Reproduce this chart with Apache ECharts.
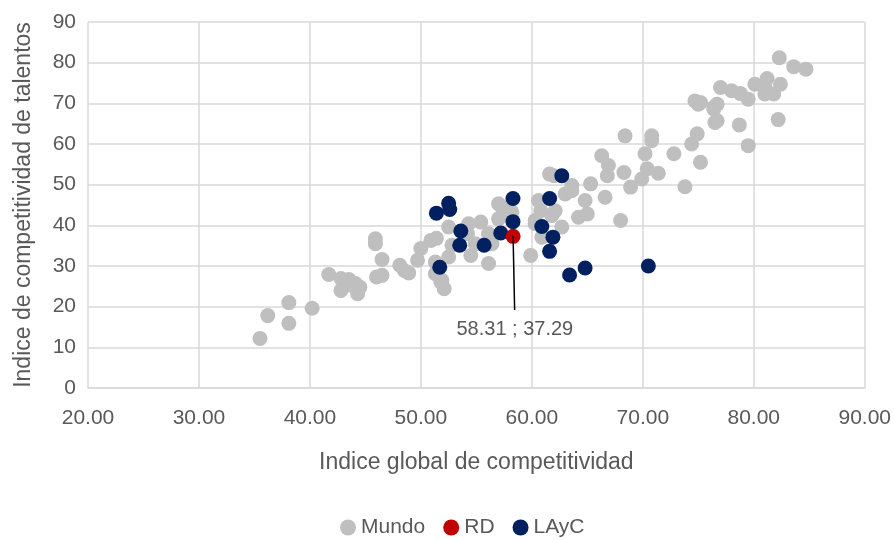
<!DOCTYPE html>
<html><head><meta charset="utf-8">
<script src="https://cdn.jsdelivr.net/npm/echarts@6/dist/echarts.min.js"></script>
<style>html,body{margin:0;padding:0;background:#fff}#c{width:894px;height:540px}</style>
</head><body><div id="c"></div>
<script>
const seriesNames = ['Mundo', 'RD', 'LAyC'];
const xAxisTitle = 'Indice global de competitividad';
const yAxisTitle = 'Indice de competitividad de talentos';
const mundo = [
[35.5,12.2],[36.2,17.8],[38.1,21.0],[38.1,15.9],[40.2,19.6],
[41.7,27.9],[42.8,26.9],[43.5,26.7],[42.8,24.0],[44.1,25.7],[44.3,23.2],[43.4,25.3],[44.5,24.8],
[45.9,36.7],[45.9,35.5],[46.5,31.6],[46.0,27.3],[46.5,27.7],
[48.1,30.2],[48.9,28.3],[48.5,28.9],[49.7,31.4],[50.0,34.3],[50.9,36.3],[51.4,36.8],
[51.3,31.0],[51.9,26.5],[51.3,28.1],[52.1,24.4],[51.8,26.1],
[52.5,32.2],[54.5,32.6],[56.1,30.6],[54.9,35.5],[52.8,35.1],[54.2,37.9],[56.1,37.9],[56.4,35.5],
[52.5,39.6],[54.3,40.4],[55.4,40.8],[57.0,45.3],[57.0,41.6],[57.9,43.2],[57.3,44.5],[58.2,43.2],
[59.9,32.6],[60.3,40.4],
[60.6,46.1],[60.8,43.6],[62.1,43.6],[62.7,39.6],[60.3,41.2],[60.9,37.1],[61.8,42.4],
[61.6,52.6],[62.0,52.2],
[63.6,49.8],[63.0,47.7],[64.8,46.1],[66.6,46.9],[65.0,42.8],[64.2,42.0],[68.0,41.2],[65.3,50.2],[63.6,48.5],
[66.3,57.1],[66.9,54.7],[66.8,52.2],[68.3,53.0],[68.9,49.4],
[68.4,62.0],[70.8,62.0],[70.8,60.8],[70.2,57.6],[70.4,53.9],[71.4,52.8],[69.9,51.4],[72.8,57.6],[73.8,49.5],
[74.4,60.0],[74.9,62.5],[75.2,55.5],[76.5,65.3],[74.7,70.6],[75.0,69.8],[76.4,69.0],[75.2,70.2],[76.7,69.8],[76.4,68.6],[76.7,65.7],
[77.0,73.9],[78.0,73.1],[78.8,72.4],[79.5,71.0],[78.7,64.7],[79.5,59.6],
[80.1,74.7],[81.2,76.1],[82.4,74.7],[81.0,73.9],[81.8,72.3],[81.0,72.3],[82.2,66.0],
[82.3,81.2],[83.6,79.0],[84.7,78.4]
];
const rd = [[58.31,37.29]];
const layc = [
[62.7,52.2],[58.3,46.6],[61.6,46.6],[52.5,45.4],[52.6,43.9],[51.4,43.0],[58.3,40.9],[60.9,39.7],
[53.6,38.6],[61.9,37.1],[57.2,38.1],[55.7,35.1],[53.5,35.1],[61.6,33.6],[51.7,29.7],[64.8,29.5],
[63.4,27.8],[70.5,30.0]
];
const annotationEnd = [58.45, 19.2];

const FONT = '"Liberation Sans", Arial, sans-serif';
const chart = echarts.init(document.getElementById('c'));
chart.setOption({
  animation: false,
  textStyle: {fontFamily: FONT},
  grid: {left: 88, right: 27, top: 22, bottom: 152, containLabel: false},
  legend: {
    data: seriesNames, bottom: -3, left: 335, icon: 'circle', itemWidth: 16, itemHeight: 16, itemGap: 18,
    textStyle: {fontSize: 21, color: '#595959', fontFamily: FONT}
  },
  xAxis: {
    type: 'value', min: 20, max: 90, interval: 10,
    name: xAxisTitle, nameLocation: 'middle', nameGap: 63,
    nameTextStyle: {fontSize: 23, color: '#595959', fontFamily: FONT},
    axisLine: {show: true, onZero: false, lineStyle: {color: '#D9D9D9', width: 1.5}},
    axisTick: {show: false},
    axisLabel: {fontSize: 21, color: '#595959', margin: 20, formatter: v => v.toFixed(2)},
    splitLine: {show: true, lineStyle: {color: '#D9D9D9', width: 1.5}}
  },
  yAxis: {
    type: 'value', min: 0, max: 90, interval: 10,
    name: yAxisTitle, nameLocation: 'middle', nameGap: 53, nameRotate: 90,
    nameTextStyle: {fontSize: 23, color: '#595959', fontFamily: FONT},
    axisLine: {show: false}, axisTick: {show: false},
    axisLabel: {fontSize: 21, color: '#595959', margin: 12},
    splitLine: {show: true, lineStyle: {color: '#D9D9D9', width: 1.5}}
  },
  series: [
    {name: 'Mundo', type: 'scatter', data: mundo, symbolSize: 15, itemStyle: {color: '#BFBFBF', opacity: 1}, z: 2},
    {name: 'LAyC', type: 'scatter', data: layc, symbolSize: 15, itemStyle: {color: '#002060', opacity: 1}, z: 3},
    {name: 'RD', type: 'scatter', data: rd, symbolSize: 15, itemStyle: {color: '#C00000', opacity: 1}, z: 4,
     markLine: {
       silent: true, symbol: ['none', 'none'],
       lineStyle: {color: '#000', width: 1.5, type: 'solid'},
       label: {show: true, position: 'end', distance: 10, fontSize: 20, color: '#595959', fontFamily: FONT,
               formatter: () => rd[0][0].toFixed(2) + ' ; ' + rd[0][1].toFixed(2)},
       data: [[{coord: rd[0]}, {coord: annotationEnd}]]
     }}
  ]
});
</script></body></html>
